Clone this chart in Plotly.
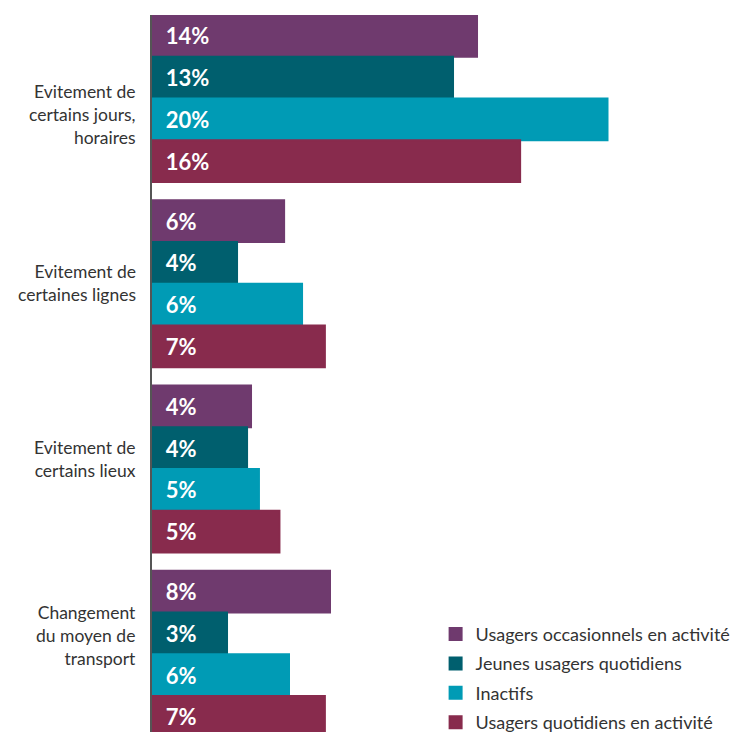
import plotly.graph_objects as go

categories = [
    "Evitement de<br>certains jours,<br>horaires",
    "Evitement de<br>certaines lignes",
    "Evitement de<br>certains lieux",
    "Changement<br>du moyen de<br>transport",
]
series_names = [
    "Usagers occasionnels en activité",
    "Jeunes usagers quotidiens",
    "Inactifs",
    "Usagers quotidiens en activité",
]
occasionnels = [13.95, 5.67, 4.25, 7.64]
jeunes = [12.92, 3.65, 4.08, 3.22]
inactifs = [19.55, 6.44, 4.59, 5.88]
quotidiens = [15.80, 7.42, 5.47, 7.42]
series_values = [occasionnels, jeunes, inactifs, quotidiens]
colors = ["#6F3A6E", "#005F6E", "#009BB5", "#882B4D"]

# vertical offsets (px) of the category labels relative to the bar groups (style)
label_yshift = [-15.5, 0.5, 9.5, 18.5]

FONT = "Lato"
TEXT_COLOR = "#333333"

fig = go.Figure()
for name, vals, col in zip(series_names, series_values, colors):
    fig.add_trace(go.Bar(
        y=categories,
        x=vals,
        name=name,
        orientation="h",
        marker=dict(color=col, line=dict(width=2, color=col)),
        texttemplate="\u00a0\u00a0%{x:.0f}%",
        textposition="inside",
        insidetextanchor="start",
        textangle=0,
        constraintext="none",
        insidetextfont=dict(family=FONT, size=22, color="white", weight="bold"),
        legendgroup=name,
        hoverinfo="skip",
    ))

for cat, dy in zip(categories, label_yshift):
    fig.add_annotation(
        x=0, xref="paper", y=cat, yref="y",
        text=cat, showarrow=False,
        xanchor="right", yanchor="middle", align="right",
        xshift=-14, yshift=dy,
        font=dict(family=FONT, size=17.5, color=TEXT_COLOR),
    )

fig.update_layout(
    width=741,
    height=732,
    margin=dict(l=152, r=0, t=15, b=0, autoexpand=False),
    paper_bgcolor="white",
    plot_bgcolor="white",
    barmode="group",
    bargap=0.099,
    bargroupgap=0,
    font=dict(family=FONT, size=17, color=TEXT_COLOR),
    uniformtext=dict(minsize=22, mode="show"),
    showlegend=True,
    legend=dict(
        x=0.4815, y=0.162, xanchor="left", yanchor="top",
        traceorder="grouped",
        tracegroupgap=3,
        font=dict(family=FONT, size=18, color=TEXT_COLOR),
        bgcolor="rgba(0,0,0,0)",
        itemwidth=30,
    ),
    xaxis=dict(
        range=[0, 25.28],
        visible=False,
        showgrid=False,
        zeroline=False,
    ),
    yaxis=dict(
        type="category",
        range=[3.42, -0.451],
        showline=True,
        linecolor="#555555",
        linewidth=1.5,
        ticks="",
        showgrid=False,
        showticklabels=False,
    ),
)

fig.write_html(
    "out.html",
    config={"displayModeBar": False},
    post_script="document.body.style.margin='0';",
)
